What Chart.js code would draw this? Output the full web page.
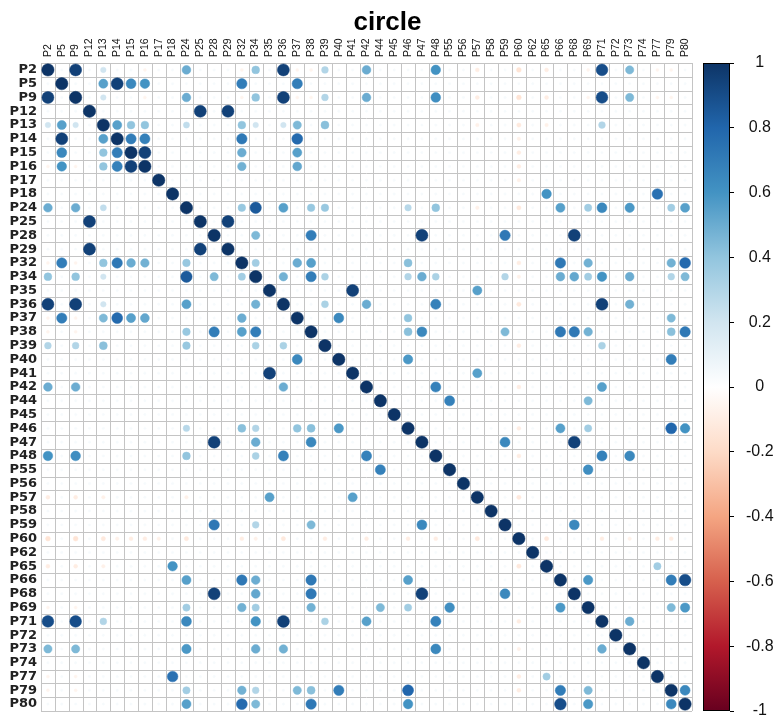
<!DOCTYPE html>
<html><head><meta charset="utf-8">
<script src="https://cdn.jsdelivr.net/npm/chart.js@4.4.1/dist/chart.umd.min.js"></script>
<style>html,body{margin:0;padding:0;background:#fff}#wrap{width:775px;height:718px}</style>
</head><body><div id="wrap"><canvas id="c" width="775" height="718"></canvas></div>
<script>
// ---------- data ----------
const labels = ["P2","P5","P9","P12","P13","P14","P15","P16","P17","P18","P24","P25","P28","P29","P32","P34","P35","P36","P37","P38","P39","P40","P41","P42","P44","P45","P46","P47","P48","P55","P56","P57","P58","P59","P60","P62","P65","P66","P68","P69","P71","P72","P73","P74","P77","P79","P80"];

// clearly visible correlations (symmetric, one triangle listed)
const strongPairs = [
 ["P2","P9",0.95],["P2","P13",0.2],["P2","P24",0.5],["P2","P34",0.4],["P2","P36",0.95],["P2","P39",0.3],["P2","P42",0.5],["P2","P48",0.6],["P2","P71",0.9],["P2","P73",0.45],
 ["P5","P13",0.55],["P5","P14",0.95],["P5","P15",0.65],["P5","P16",0.6],["P5","P32",0.7],["P5","P37",0.7],
 ["P9","P13",0.2],["P9","P24",0.5],["P9","P34",0.4],["P9","P36",0.95],["P9","P39",0.3],["P9","P42",0.5],["P9","P48",0.62],["P9","P71",0.9],["P9","P73",0.45],
 ["P12","P25",0.95],["P12","P29",0.95],
 ["P13","P14",0.55],["P13","P15",0.4],["P13","P16",0.4],["P13","P24",0.25],["P13","P32",0.4],["P13","P34",0.2],["P13","P36",0.2],["P13","P37",0.45],["P13","P39",0.42],["P13","P71",0.3],
 ["P14","P15",0.7],["P14","P16",0.68],["P14","P32",0.72],["P14","P37",0.78],
 ["P15","P16",0.95],["P15","P32",0.5],["P15","P37",0.55],
 ["P16","P32",0.48],["P16","P37",0.52],
 ["P18","P65",0.6],["P18","P77",0.75],
 ["P24","P32",0.38],["P24","P34",0.85],["P24","P36",0.55],["P24","P38",0.38],["P24","P39",0.38],["P24","P46",0.28],["P24","P48",0.4],["P24","P66",0.55],["P24","P69",0.35],["P24","P71",0.65],["P24","P73",0.58],["P24","P79",0.35],["P24","P80",0.55],
 ["P25","P29",0.95],
 ["P28","P34",0.45],["P28","P38",0.7],["P28","P47",0.95],["P28","P59",0.72],["P28","P68",0.95],
 ["P32","P34",0.35],["P32","P37",0.5],["P32","P38",0.55],["P32","P46",0.42],["P32","P66",0.72],["P32","P69",0.48],["P32","P79",0.48],["P32","P80",0.78],
 ["P34","P36",0.48],["P34","P38",0.7],["P34","P39",0.32],["P34","P46",0.3],["P34","P47",0.5],["P34","P48",0.32],["P34","P59",0.3],["P34","P66",0.5],["P34","P68",0.52],["P34","P69",0.35],["P34","P71",0.6],["P34","P73",0.5],["P34","P79",0.3],["P34","P80",0.45],
 ["P35","P41",0.95],["P35","P57",0.55],
 ["P36","P39",0.32],["P36","P42",0.5],["P36","P48",0.68],["P36","P71",0.95],["P36","P73",0.48],
 ["P37","P40",0.65],["P37","P46",0.4],["P37","P79",0.45],
 ["P38","P46",0.42],["P38","P47",0.65],["P38","P59",0.45],["P38","P66",0.72],["P38","P68",0.72],["P38","P69",0.48],["P38","P79",0.42],["P38","P80",0.72],
 ["P39","P71",0.32],
 ["P40","P46",0.58],["P40","P79",0.7],
 ["P41","P57",0.55],
 ["P42","P48",0.68],["P42","P71",0.55],
 ["P44","P55",0.68],["P44","P69",0.45],
 ["P46","P66",0.55],["P46","P69",0.35],["P46","P79",0.8],["P46","P80",0.6],
 ["P47","P59",0.65],["P47","P68",0.95],
 ["P48","P71",0.68],["P48","P73",0.65],
 ["P55","P69",0.62],
 ["P59","P68",0.65],
 ["P65","P77",0.35],
 ["P66","P69",0.58],["P66","P79",0.7],["P66","P80",0.9],
 ["P69","P79",0.45],["P69","P80",0.58],
 ["P71","P73",0.5],
 ["P79","P80",0.65]
];

// faint negative correlations (small pink dots)
const weakNegPairs = [
 ["P60","P2",-0.15],["P60","P9",-0.15],["P60","P13",-0.12],["P60","P14",-0.08],["P60","P15",-0.1],["P60","P16",-0.1],["P60","P17",-0.08],["P60","P24",-0.12],["P60","P32",-0.1],["P60","P34",-0.08],["P60","P36",-0.12],["P60","P39",-0.1],["P60","P42",-0.1],["P60","P46",-0.1],["P60","P48",-0.1],["P60","P57",-0.12],["P60","P65",-0.12],["P60","P71",-0.1],["P60","P73",-0.08],["P60","P77",-0.1],["P60","P79",-0.1],
 ["P57","P2",-0.1],["P57","P9",-0.1],["P57","P13",-0.08],["P57","P24",-0.08],
 ["P65","P2",-0.1],["P65","P9",-0.1],["P65","P13",-0.08],
 ["P2","P16",-0.06],["P2","P32",-0.06],["P2","P37",-0.06],["P2","P38",-0.06],["P2","P69",-0.06],["P2","P77",-0.06],["P2","P79",-0.06],
 ["P9","P16",-0.06],["P9","P32",-0.06],["P9","P37",-0.06],["P9","P38",-0.06],["P9","P69",-0.06],["P9","P77",-0.06],["P9","P79",-0.06]
];
const baselineValue = 0.04;   // near-zero cells (tiny faint dots)
const colorbarTicks = [1,0.8,0.6,0.4,0.2,0,-0.2,-0.4,-0.6,-0.8,-1];
const paletteValues = [-1,-0.8,-0.6,-0.4,-0.2,0,0.2,0.4,0.6,0.8,1];
const paletteColors = ["#67001F","#B2182B","#D6604D","#F4A582","#FDDBC7","#FFFFFF","#D1E5F0","#92C5DE","#4393C3","#2166AC","#0D3466"];

// ---------- build matrix ----------
const n = labels.length;
const idx = Object.fromEntries(labels.map((l,i)=>[l,i]));
const M = labels.map((_,i)=>labels.map((_,j)=> i===j ? 1 : baselineValue));
for (const [a,b,v] of weakNegPairs.concat(strongPairs)) { M[idx[a]][idx[b]] = v; M[idx[b]][idx[a]] = v; }
const points = [];
for (let i=0;i<n;i++) for (let j=0;j<n;j++) points.push({x:j, y:i, v:M[i][j]});

function hexToRgb(h){ return [parseInt(h.slice(1,3),16),parseInt(h.slice(3,5),16),parseInt(h.slice(5,7),16)]; }
function colorFor(v){
  const t = Math.max(0, Math.min(paletteValues.length-1-1e-9, (v+1)/2*(paletteValues.length-1)));
  const k = Math.floor(t), f = t-k;
  const a = hexToRgb(paletteColors[k]), b = hexToRgb(paletteColors[k+1]);
  const c = a.map((x,m)=>Math.round(x+(b[m]-x)*f));
  return `rgb(${c[0]},${c[1]},${c[2]})`;
}
function cellPx(chart){ const xs = chart.scales.x; return Math.abs(xs.getPixelForValue(1)-xs.getPixelForValue(0)); }
function noPad(s){ s.paddingTop = 0; s.paddingBottom = 0; s.paddingLeft = 0; s.paddingRight = 0; }

const matrixGrid = {
  id:'matrixGrid',
  beforeDatasetsDraw(chart){
    const {ctx, scales:{x,y}} = chart;
    const x0 = x.getPixelForValue(-0.5), x1 = x.getPixelForValue(n-0.5);
    const y0 = y.getPixelForValue(-0.5), y1 = y.getPixelForValue(n-0.5);
    ctx.save(); ctx.strokeStyle = '#c4c4c4'; ctx.lineWidth = 1; ctx.beginPath();
    for (let k=0;k<=n;k++){
      const px = Math.round(x.getPixelForValue(k-0.5))+0.5;
      ctx.moveTo(px,y0); ctx.lineTo(px,y1);
      const py = Math.round(y.getPixelForValue(k-0.5))+0.5;
      ctx.moveTo(x0,py); ctx.lineTo(x1,py);
    }
    ctx.stroke(); ctx.restore();
  }
};
const colorBar = {
  id:'colorBar',
  afterDraw(chart){
    const cb = chart.scales.cb, ctx = chart.ctx;
    const w = 27, right = cb.left, left = right - w;
    const top = cb.getPixelForValue(1), bottom = cb.getPixelForValue(-1);
    const g = ctx.createLinearGradient(0,bottom,0,top);
    paletteValues.forEach((v,k)=>g.addColorStop((v+1)/2, paletteColors[k]));
    ctx.save();
    ctx.fillStyle = g; ctx.fillRect(left, top, w, bottom-top);
    ctx.strokeStyle = '#000'; ctx.lineWidth = 1; ctx.strokeRect(Math.round(left)+0.5, Math.round(top)+0.5, w-1, Math.round(bottom-top)-1);
    ctx.restore();
  }
};

new Chart(document.getElementById('c'), {
  type:'scatter',
  data:{ datasets:[{
    data: points,
    pointRadius: c => c.raw ? 0.445*cellPx(c.chart)*Math.sqrt(Math.abs(c.raw.v)) : 0,
    pointHoverRadius: c => c.raw ? 0.445*cellPx(c.chart)*Math.sqrt(Math.abs(c.raw.v)) : 0,
    pointBackgroundColor: c => c.raw ? colorFor(c.raw.v) : '#fff',
    pointBorderColor: c => c.raw ? colorFor(c.raw.v) : '#fff',
    pointBorderWidth: 0.5
  }]},
  options:{
    responsive:false, animation:false, events:[],
    layout:{ padding:{ left:0, right:0, top:0, bottom:7 } },
    plugins:{
      legend:{ display:false }, tooltip:{ enabled:false },
      title:{ display:true, text:'circle', color:'#000', font:{ family:'Liberation Sans', size:26, weight:'bold', lineHeight:1.2 }, padding:{ top:7, bottom:0 } }
    },
    scales:{
      x:{ type:'linear', position:'top', min:-0.5, max:49.243,
        afterBuildTicks: s => { s.ticks = labels.map((_,i)=>({value:i})); },
        afterFit: s => { s.height = 24.8; noPad(s); },
        grid:{ display:false, drawTicks:false }, border:{ display:false },
        ticks:{ autoSkip:false, minRotation:90, maxRotation:90, padding:6, labelOffset:12.5, color:'#111', font:{ family:'Liberation Sans', size:10.5 }, callback: v => labels[v] }
      },
      y:{ type:'linear', position:'left', reverse:true, min:-0.5, max:n-0.5,
        afterBuildTicks: s => { s.ticks = labels.map((_,i)=>({value:i})); },
        afterFit: s => { s.width = 41; noPad(s); },
        grid:{ display:false, drawTicks:false }, border:{ display:false },
        ticks:{ autoSkip:false, padding:4, color:'#222', font:{ family:'DejaVu Sans', size:13, weight:'bold' }, callback: v => labels[v] }
      },
      cb:{ type:'linear', position:'right', min:-1, max:1,
        afterBuildTicks: s => { s.ticks = colorbarTicks.map(v=>({value:v})); },
        afterFit: s => { s.width = 45; noPad(s); },
        grid:{ drawOnChartArea:false, drawTicks:true, tickLength:4, color:'#000', lineWidth:1 }, border:{ display:false },
        ticks:{ autoSkip:false, padding:12, crossAlign:'center', color:'#111', font:{ family:'Liberation Sans', size:16 }, callback: v => String(Number(v.toFixed(1))) }
      }
    }
  },
  plugins:[matrixGrid, colorBar]
});
</script></body></html>
